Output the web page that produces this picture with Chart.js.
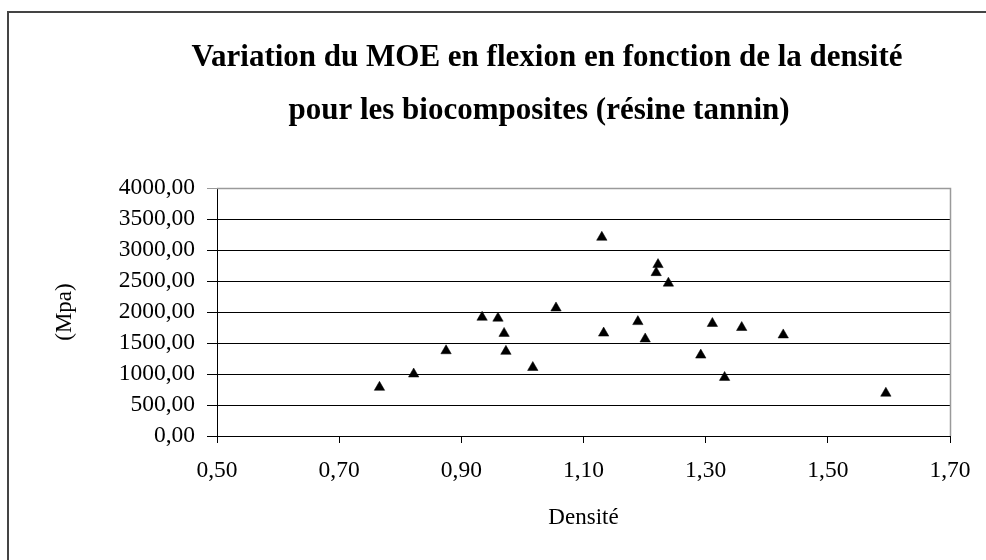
<!DOCTYPE html>
<html>
<head>
<meta charset="utf-8">
<script src="https://cdn.jsdelivr.net/npm/chart.js@4/dist/chart.umd.min.js"></script>
<style>
  html, body { margin: 0; padding: 0; background: #fff; }
  #wrap { width: 986px; height: 560px; }
</style>
</head>
<body>
<div id="wrap"><canvas id="myChart" width="986" height="560"></canvas></div>
<script>
// MOE (Mpa) vs densité, biocomposites résine tannin
var wDensite = [0.766, 0.822, 0.875, 0.934, 0.960, 0.970, 0.973, 1.017, 1.055, 1.130, 1.133,
                1.189, 1.201, 1.222, 1.219, 1.239, 1.292, 1.311, 1.331, 1.359, 1.427, 1.595]
var wMOE = [785, 1000, 1375, 1915, 1900, 1655, 1365, 1105, 2065, 3205, 1660,
            1845, 1565, 2765, 2635, 2465, 1305, 1815, 945, 1750, 1630, 690]
var wXTicks = [0.5, 0.7, 0.9, 1.1, 1.3, 1.5, 1.7]
var wYTicks = [0, 500, 1000, 1500, 2000, 2500, 3000, 3500, 4000]
var wTitle = ['Variation du MOE en flexion en fonction de la densité',
              'pour les biocomposites (résine tannin)']

var wSerif = "'Liberation Serif', 'Times New Roman', serif"

var wPoints = []
wDensite.forEach((d, i) => {
    wPoints.push({ x: d, y: wMOE[i] })
});

function fmt(v) {
    return Number(v).toFixed(2).replace('.', ',')
}

// frame around the whole chart, title, and grey top/right edge of the plot area
var decorPlugin = {
    id: 'decor',
    beforeDraw(chart) {
        var ctx = chart.ctx
        ctx.save()
        ctx.fillStyle = '#fff'
        ctx.fillRect(0, 0, chart.width, chart.height)
        ctx.strokeStyle = '#444'
        ctx.lineWidth = 2
        ctx.strokeRect(8, 12, chart.width + 20, chart.height + 20)
        ctx.restore()
    },
    beforeDatasetsDraw(chart) {
        var a = chart.chartArea
        var ctx = chart.ctx
        ctx.save()
        ctx.strokeStyle = '#9a9a9a'
        ctx.lineWidth = 1.5
        ctx.beginPath()
        ctx.moveTo(a.left, a.top + 0.5)
        ctx.lineTo(a.right + 0.5, a.top + 0.5)
        ctx.lineTo(a.right + 0.5, a.bottom)
        ctx.stroke()
        ctx.restore()
    },
    afterDraw(chart) {
        var ctx = chart.ctx
        ctx.save()
        ctx.fillStyle = '#000'
        ctx.font = "bold 31px " + wSerif
        ctx.textAlign = 'center'
        ctx.textBaseline = 'alphabetic'
        ctx.fillText(wTitle[0], 547, 66)
        ctx.fillText(wTitle[1], 539, 119)
        ctx.restore()
    }
}

var ctx = document.getElementById('myChart').getContext('2d');
var myChart = new Chart(ctx, {
    type: 'scatter',
    plugins: [decorPlugin],
    data: {
        datasets: [{
            label: 'MOE',
            data: wPoints,
            pointStyle: 'triangle',
            pointRadius: 6,
            pointHoverRadius: 6,
            backgroundColor: '#000',
            borderColor: '#000',
            borderWidth: 0.5
        }]
    },
    options: {
        responsive: false,
        animation: false,
        devicePixelRatio: 1,
        layout: {
            padding: { top: 188, right: 36, left: 0, bottom: 0 }
        },
        plugins: {
            legend: { display: false },
            tooltip: { enabled: false }
        },
        scales: {
            x: {
                type: 'linear',
                min: 0.5,
                max: 1.7,
                afterBuildTicks: (scale) => {
                    scale.ticks = wXTicks.map(v => ({ value: v }))
                },
                afterFit: (scale) => {
                    scale.height = 124
                },
                ticks: {
                    color: '#000',
                    padding: 14,
                    autoSkip: false,
                    maxRotation: 0,
                    font: { family: wSerif, size: 23.5 },
                    callback: (v) => fmt(v)
                },
                grid: {
                    drawOnChartArea: false,
                    drawTicks: true,
                    tickLength: 7,
                    color: '#000'
                },
                border: { color: '#000', width: 1 },
                title: {
                    display: true,
                    text: 'Densité',
                    color: '#000',
                    font: { family: wSerif, size: 23 },
                    padding: { top: 0, bottom: 28 }
                }
            },
            y: {
                type: 'linear',
                min: 0,
                max: 4000,
                afterBuildTicks: (scale) => {
                    scale.ticks = wYTicks.map(v => ({ value: v }))
                },
                afterFit: (scale) => {
                    scale.width = 217
                },
                ticks: {
                    color: '#000',
                    padding: 12,
                    autoSkip: false,
                    font: { family: wSerif, size: 23.5 },
                    callback: (v) => fmt(v)
                },
                grid: {
                    drawTicks: true,
                    tickLength: 10,
                    lineWidth: 1,
                    color: (c) => (c.tick && c.tick.value === 4000) ? '#9a9a9a' : '#000'
                },
                border: { color: '#000', width: 1 },
                title: {
                    display: true,
                    text: '(Mpa)',
                    color: '#000',
                    font: { family: wSerif, size: 23 },
                    padding: { top: 51, bottom: 0 }
                }
            }
        }
    }
});
</script>
</body>
</html>
